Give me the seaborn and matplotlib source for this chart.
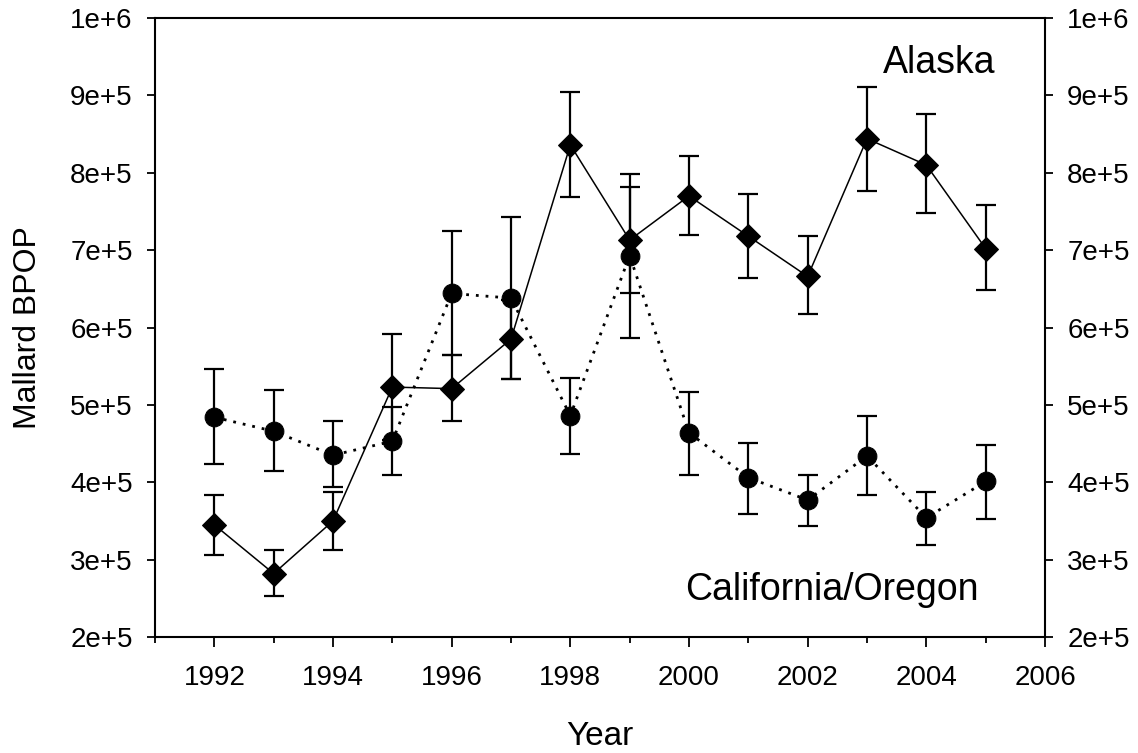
import numpy as np
import pandas as pd
import matplotlib
matplotlib.use("Agg")
import matplotlib.pyplot as plt
from matplotlib.ticker import FixedLocator
import seaborn as sns

# Breeding population estimates (BPOP) of mallards, with error-bar limits
years = [1992, 1993, 1994, 1995, 1996, 1997, 1998, 1999, 2000, 2001, 2002, 2003, 2004, 2005]

alaska_mean = [3.45e5, 2.82e5, 3.50e5, 5.23e5, 5.21e5, 5.85e5, 8.36e5,
               7.13e5, 7.70e5, 7.18e5, 6.66e5, 8.44e5, 8.10e5, 7.02e5]
alaska_upper = [3.84e5, 3.12e5, 3.88e5, 5.91e5, 5.64e5, 6.36e5, 9.04e5,
                7.82e5, 8.22e5, 7.73e5, 7.18e5, 9.11e5, 8.76e5, 7.58e5]
alaska_lower = [3.06e5, 2.53e5, 3.13e5, 4.55e5, 4.79e5, 5.34e5, 7.69e5,
                6.44e5, 7.20e5, 6.64e5, 6.17e5, 7.76e5, 7.48e5, 6.48e5]

calor_mean = [4.84e5, 4.66e5, 4.35e5, 4.53e5, 6.44e5, 6.38e5, 4.86e5,
              6.93e5, 4.64e5, 4.06e5, 3.77e5, 4.34e5, 3.54e5, 4.01e5]
calor_upper = [5.46e5, 5.19e5, 4.79e5, 4.97e5, 7.25e5, 7.43e5, 5.35e5,
               7.99e5, 5.16e5, 4.51e5, 4.09e5, 4.85e5, 3.88e5, 4.48e5]
calor_lower = [4.23e5, 4.15e5, 3.94e5, 4.10e5, 5.65e5, 5.33e5, 4.37e5,
               5.87e5, 4.10e5, 3.59e5, 3.44e5, 3.84e5, 3.19e5, 3.53e5]

y_ticks = [2e5, 3e5, 4e5, 5e5, 6e5, 7e5, 8e5, 9e5, 1e6]
y_tick_labels = ["2e+5", "3e+5", "4e+5", "5e+5", "6e+5", "7e+5", "8e+5", "9e+5", "1e+6"]
x_ticks = [1992, 1994, 1996, 1998, 2000, 2002, 2004, 2006]

sns.set_theme(style="ticks")
plt.rcParams["font.family"] = ["Liberation Sans", "DejaVu Sans"]
plt.rcParams["text.color"] = "black"
plt.rcParams["axes.labelcolor"] = "black"
plt.rcParams["xtick.color"] = "black"
plt.rcParams["ytick.color"] = "black"

df = pd.DataFrame({
    "Year": years,
    "Alaska": alaska_mean,
    "CalOr": calor_mean,
})

fig = plt.figure(figsize=(11.38, 7.53), dpi=100)
ax = fig.add_axes([155 / 1138, 116 / 753, 890 / 1138, 619 / 753])

# Error bars first so the markers sit on top
for mean, lo, hi in [(alaska_mean, alaska_lower, alaska_upper),
                     (calor_mean, calor_lower, calor_upper)]:
    m = np.array(mean)
    yerr = [m - np.array(lo), np.array(hi) - m]
    ax.errorbar(years, m, yerr=yerr, fmt="none", ecolor="black",
                elinewidth=1.6, capsize=7, capthick=1.6, zorder=2)

sns.lineplot(data=df, x="Year", y="Alaska", ax=ax, color="black",
             linewidth=1.1, marker="D", markersize=12,
             markeredgecolor="black", markerfacecolor="black", zorder=3)
sns.lineplot(data=df, x="Year", y="CalOr", ax=ax, color="black",
             linewidth=2.0, linestyle=(0, (1, 2.5)), marker="o", markersize=13.5,
             markeredgecolor="black", markerfacecolor="black", zorder=3)

ax.set_xlim(1991, 2006)
ax.set_ylim(2e5, 1e6)
ax.xaxis.set_major_locator(FixedLocator(x_ticks))
ax.xaxis.set_minor_locator(FixedLocator(np.arange(1991, 2006, 2)))
ax.set_xticklabels([str(t) for t in x_ticks])
ax.set_yticks(y_ticks)
ax.set_yticklabels(y_tick_labels)

for side in ["left", "right", "top", "bottom"]:
    ax.spines[side].set_visible(True)
    ax.spines[side].set_linewidth(1.5)
    ax.spines[side].set_color("black")

ax.tick_params(axis="x", which="major", direction="out", length=7, width=1.3,
               labelsize=20, pad=13, colors="black")
ax.tick_params(axis="x", which="minor", direction="out", length=4.5, width=1.3,
               bottom=True, colors="black")
ax.tick_params(axis="y", which="major", direction="out", length=6, width=1.3,
               labelsize=20, pad=10, left=True, right=True,
               labelleft=True, labelright=True, colors="black")

ax.set_xlabel("Year", fontsize=24, va="center", color="black")
ax.xaxis.set_label_coords(0.5, -0.16)
ax.set_ylabel("Mallard BPOP", fontsize=23, va="center", color="black")
ax.yaxis.set_label_coords(-0.143, 0.5)

ax.text(0.944, 0.911, "Alaska", transform=ax.transAxes, ha="right",
        va="baseline", fontsize=27, color="black")
ax.text(0.925, 0.060, "California/Oregon", transform=ax.transAxes, ha="right",
        va="baseline", fontsize=27, color="black")

ax.grid(False)
fig.savefig("out.png", dpi=100, facecolor="white")
